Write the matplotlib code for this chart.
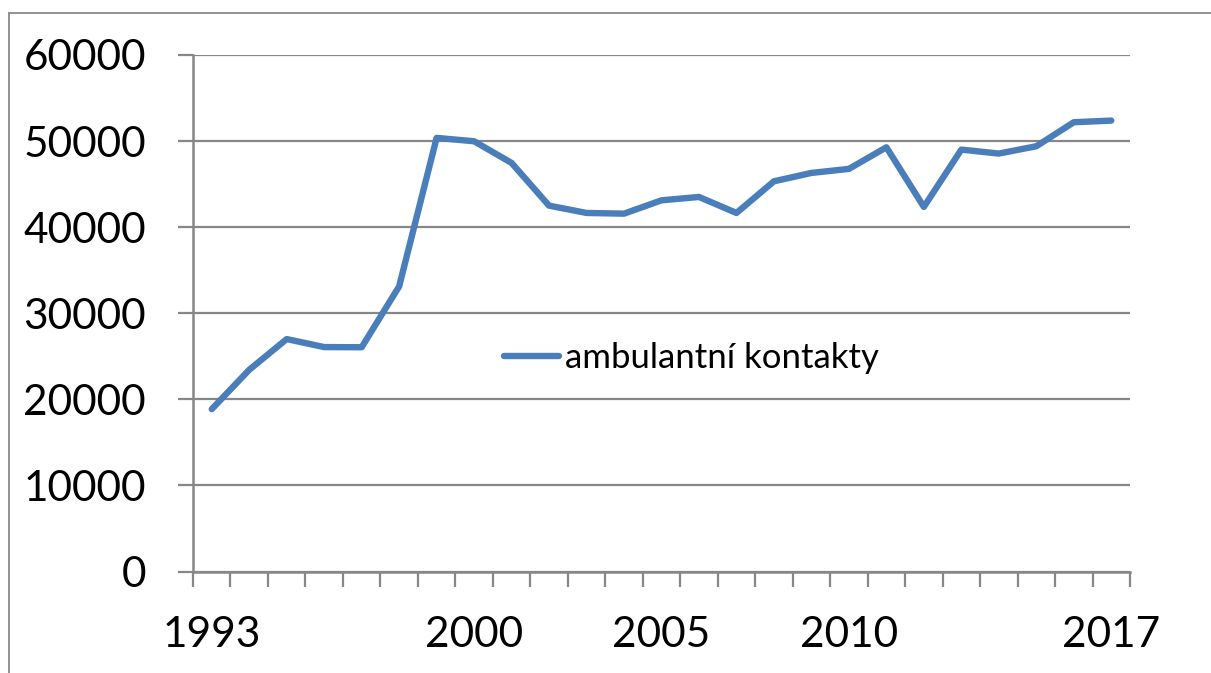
import matplotlib
matplotlib.use("Agg")
import matplotlib.pyplot as plt
from matplotlib.lines import Line2D
from matplotlib.ticker import FixedLocator, NullFormatter

years = list(range(1993, 2018))
values = [18860, 23430, 27000, 26070, 26050, 33120, 50370, 49980, 47460, 42500,
          41650, 41570, 43120, 43510, 41650, 45330, 46300, 46770, 49280, 42350,
          49010, 48550, 49400, 52190, 52380]
shown_labels = ["1993", "2000", "2005", "2010", "2017"]
series_name = "ambulantní kontakty"

W, H = 1211, 673
fig = plt.figure(figsize=(W / 100, H / 100), dpi=100)
plt.rcParams['font.family'] = ['Lato', 'DejaVu Sans']

ax = fig.add_axes([193 / W, 1 - 571.5 / H, (1130 - 193) / W, (571.5 - 55) / H])
grid_c = "#878787"
blue = "#4A7EBB"

x = list(range(len(years)))
line, = ax.plot(x, values, color=blue, lw=4.6, solid_joinstyle='round',
                solid_capstyle='round', label=series_name, zorder=3)

ax.set_xlim(-0.5, len(years) - 0.5)
ax.set_ylim(0, 60000)
ax.set_yticks(range(0, 60001, 10000))
ax.yaxis.grid(True, color=grid_c, lw=1.6)
ax.set_axisbelow(True)

label_pos = [years.index(int(s)) for s in shown_labels]
ax.set_xticks(label_pos)
ax.set_xticklabels(shown_labels)
ax.xaxis.set_minor_locator(FixedLocator([i - 0.5 for i in range(len(years) + 1)]))
ax.xaxis.set_minor_formatter(NullFormatter())
ax.tick_params(axis='x', which='major', length=0, pad=32, labelsize=30.5)
ax.tick_params(axis='x', which='minor', length=11, width=1.6, color=grid_c, direction='out')
ax.tick_params(axis='y', which='major', length=11, width=1.6, color=grid_c, pad=23, labelsize=30.5)

for s in ['top', 'right']:
    ax.spines[s].set_visible(False)
for s in ['left', 'bottom']:
    ax.spines[s].set_color(grid_c)
    ax.spines[s].set_linewidth(1.8)

leg = fig.legend(handles=[line], labels=[series_name], loc='center left',
                 bbox_to_anchor=(504 / W, 1 - 358 / H), frameon=False,
                 fontsize=25, handlelength=1.58, handletextpad=0.17, borderpad=0,
                 borderaxespad=0)

# outer chart border (partly outside the image)
fig.add_artist(Line2D([8.5 / W, 1.0], [1 - 13 / H, 1 - 13 / H], transform=fig.transFigure,
                      color="#898989", lw=1.3))
fig.add_artist(Line2D([8.5 / W, 8.5 / W], [0, 1 - 13 / H], transform=fig.transFigure,
                      color="#898989", lw=1.3))

fig.savefig("out.png", dpi=100)
